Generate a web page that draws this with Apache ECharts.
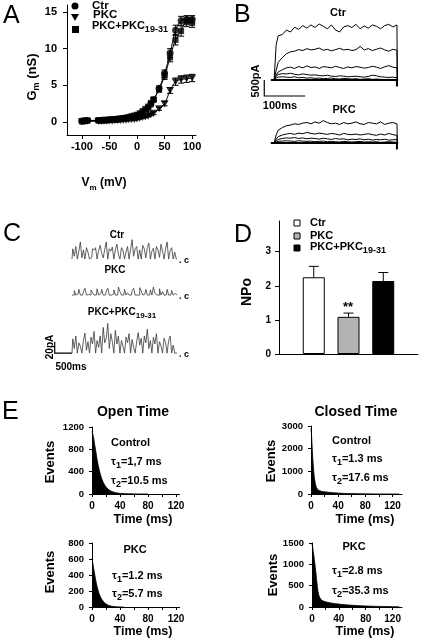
<!DOCTYPE html>
<html><head><meta charset="utf-8">
<script src="https://cdn.jsdelivr.net/npm/echarts@6/dist/echarts.min.js"></script>
<style>html,body{margin:0;padding:0;background:#fff}#c{width:421px;height:643px}</style>
</head><body><div id="c"></div>
<script>
const FONT = "'Liberation Sans', Arial, sans-serif";

// ---------- Panel A: G-V relation ----------
const vA = [-100,-95,-90,-70,-65,-60,-55,-50,-45,-40,-35,-30,-25,-20,-15,-10,-5,0,5,10,15,20,25,30,40,50,60,70,80,90,100];
const ctrA = [0.1,0.15,0.2,0.2,0.2,0.25,0.25,0.3,0.3,0.35,0.35,0.4,0.45,0.5,0.55,0.6,0.7,0.8,1.0,1.2,1.5,1.9,2.4,3.0,4.6,6.6,9.4,12.5,13.8,14.0,14.0];
const pkcA = [0.05,0.1,0.1,0.1,0.1,0.1,0.15,0.15,0.15,0.2,0.2,0.2,0.25,0.25,0.3,0.3,0.35,0.4,0.5,0.6,0.7,0.8,1.0,1.2,1.8,2.5,4.3,5.5,5.8,5.9,6.0];
const pkcpA = [0.1,0.2,0.2,0.25,0.25,0.3,0.3,0.35,0.35,0.4,0.45,0.5,0.55,0.6,0.7,0.8,0.9,1.0,1.2,1.5,1.8,2.1,2.6,3.1,4.4,6.3,8.8,11.2,12.4,13.6,13.5];
const ctrErrA = [0.1,0.1,0.1,0.1,0.1,0.1,0.1,0.1,0.1,0.1,0.1,0.1,0.1,0.1,0.1,0.1,0.1,0.1,0.1,0.1,0.1,0.15,0.2,0.25,0.3,0.5,0.6,0.7,0.6,0.5,0.5];
const pkcErrA = [0.1,0.1,0.1,0.1,0.1,0.1,0.1,0.1,0.1,0.1,0.1,0.1,0.1,0.1,0.1,0.1,0.1,0.1,0.1,0.1,0.1,0.1,0.15,0.2,0.2,0.3,0.4,0.5,0.5,0.5,0.5];
const pkcpErrA = [0.1,0.1,0.1,0.1,0.1,0.1,0.1,0.1,0.1,0.1,0.1,0.1,0.1,0.1,0.1,0.1,0.1,0.1,0.1,0.1,0.1,0.15,0.2,0.25,0.3,0.5,0.6,0.7,0.7,0.6,0.6];
const tickA_x = [-100,-50,0,50,100];
const tickA_y = [0,5,10,15];

// ---------- Panel B: whole-cell current traces (ms, pA) ----------
const tB = [0,5,10,20,30,40,50,60,70,80,90,100,110,120,130,140,150,160,170,180,190,200,210,220,230,240,250,260,270,280,290,300,301];
const ctrB1 = [0,1100,1380,1420,1560,1500,1650,1580,1700,1620,1720,1640,1750,1680,1600,1720,1560,1500,1660,1700,1640,1740,1600,1690,1620,1720,1680,1600,1700,1740,1660,1720,0];
const ctrB2 = [0,300,550,700,820,880,900,950,920,980,940,960,1000,930,960,910,950,990,940,960,920,950,1050,940,980,920,960,1000,940,900,960,930,0];
const ctrB3 = [0,150,250,320,380,400,360,420,380,440,390,410,360,420,400,380,430,390,360,410,380,420,400,370,390,430,400,360,410,450,400,380,0];
const ctrB4 = [0,120,170,200,190,210,180,160,190,170,150,160,140,130,150,120,110,130,120,100,110,120,100,90,110,150,130,100,90,80,90,70,0];
const ctrB5 = [0,60,90,100,90,80,100,70,80,60,70,50,60,40,50,60,40,30,50,40,30,40,20,30,40,20,30,20,10,20,10,20,0];
const pkcB1 = [0,250,400,480,540,560,600,580,620,640,600,660,620,700,640,600,620,580,640,600,620,660,600,580,640,620,600,660,580,620,640,600,0];
const pkcB2 = [0,120,200,250,280,300,270,310,290,330,300,280,310,290,270,300,280,250,300,270,260,280,250,270,290,260,240,280,250,300,260,240,0];
const pkcB3 = [0,60,110,140,160,150,170,140,160,130,150,140,120,150,130,110,140,120,130,100,120,110,130,100,120,90,110,100,120,90,100,110,0];
const pkcB4 = [0,30,50,60,70,60,50,70,60,50,60,40,50,60,40,50,40,30,50,40,30,40,50,30,40,30,40,20,30,40,30,20,0];
const baseBT = [-8,300,300,300,303];
const baseBI = [0,0,-200,0,0];
const scaleBT = [-24,-24,76];
const scaleBI = [0,-500,-500];

// ---------- Panel C: single-channel traces (pA) ----------
const stepC = 44; // ms per sample
const ctrC = [0,18,5,22,0,14,30,2,16,0, 20,12,0,3,18,16,20,0,15,24, 10,2,17,30,0,18,14,21,0,16, 26,8,0,20,15,0,12,22,0,17, 34,5,18,22,0,16,0,24,18,2, 20,28,0,14,19,0,22,16,3,26, 14,0,18,30,0,15,20,0,12,0];
const pkcC = [0,0,8,0,2,10,0,0,6,12, 0,1,0,9,4,0,0,11,0,3, 10,0,0,7,12,0,0,2,9,0, 0,14,6,0,0,10,0,4,0,0, 8,12,0,0,0,13,7,0,2,10, 0,0,9,0,14,3,0,0,11,0, 6,0,0,10,0,0,8,0,3,0];
const pkcpC = [0,25,8,30,0,18,12,0,22,35, 5,20,0,28,16,38,0,22,10,30, 0,45,18,26,52,8,34,20,0,40, 16,30,0,22,12,0,28,18,34,0, 24,10,0,20,36,14,26,0,30,18, 42,8,22,0,28,16,34,0,20,12, 0,26,18,0,22,30,0,14,0,0];
const scaleCT = [-500,-500,0];
const scaleCI = [20,0,0];

// ---------- Panel D: NPo ----------
const npoNames = ['Ctr','PKC','PKC+PKC19-31'];
const npoVals = [2.25,1.09,2.14];
const npoErr = [0.32,0.11,0.25];
const npoColors = ['#ffffff','#b3b3b3','#000000'];
const tickD_y = [0,1,2,3];

// ---------- Panel E: dwell-time histograms ----------
const openCtrlT = [0,1,2,3,4,5,6,7,8,9,10,11,12,13,14,15,16,17,18,19,20,21,22,23,24,25,26,27,28,29,30,32,34,36,38,40,42,45,48,52,56,60,70,80];
const openCtrlN = [1120,1080,1030,950,870,800,720,640,570,510,450,400,350,310,270,240,210,185,160,140,125,110,98,86,76,68,60,53,47,42,37,30,24,19,15,12,10,8,6,4,3,2,1,0];
const closedCtrlT = [0,1,2,3,4,5,6,7,8,9,10,11,12,13,14,15,16,18,20,22,25,28,31,35,40,45,50,55,60,70,80,90,100,110,120,130];
const closedCtrlN = [2900,2500,1900,1400,1000,720,520,380,290,230,190,165,150,140,130,122,115,105,96,88,78,68,60,50,40,32,26,21,17,11,7,5,3,2,1,0];
const openPkcT = [0,1,2,3,4,5,6,7,8,9,10,11,12,13,14,15,16,17,18,19,20,22,24,26,28,30,33,36,40,45];
const openPkcN = [610,560,500,450,400,350,305,265,230,200,170,148,128,110,95,82,70,60,52,44,38,28,20,14,10,7,4,2,1,0];
const closedPkcT = [0,1,2,3,4,5,6,7,8,9,10,11,12,13,14,15,16,18,20,22,25,28,31,35,40,45,50,55,60,70,80,90,100,110,120,130];
const closedPkcN = [1480,1400,1300,1170,1050,920,780,620,480,360,290,240,205,180,165,155,145,132,122,114,104,95,87,78,68,60,52,46,40,31,24,18,14,11,8,6];
const tickE_lab = [0,40,80,120];
const tickE_tick = [0,20,40,60,80,100,120];

// ---------- helpers ----------
const zip = (a,b) => a.map((v,i)=>[v,b[i]]);
const zip3 = (a,b,c) => a.map((v,i)=>[v,b[i],c[i]]);
const idxT = (arr, step) => arr.map((_,i)=>i*step);
const BLK = '#000';
const lineSt = {color:BLK, width:1};
const plain = v => String(v);

function visAxis(grid, o) {
  return Object.assign({
    type:'value', gridIndex:grid,
    axisLine:{show:true, onZero:false, lineStyle:lineSt},
    axisTick:{show:true, length:4, lineStyle:lineSt},
    axisLabel:{color:BLK, fontWeight:'bold', fontSize:10, fontFamily:FONT, formatter:plain},
    splitLine:{show:false}
  }, o);
}
function hidAxis(grid, min, max) {
  return {type:'value', gridIndex:grid, min:min, max:max, show:false, splitLine:{show:false}};
}
function errRender(cap, both) {
  return function(params, api) {
    const x = api.value(0), y = api.value(1), e = api.value(2);
    const hi = api.coord([x, y + e]);
    const lo = both ? api.coord([x, y - e]) : api.coord([x, y]);
    const ch = [
      {type:'line', shape:{x1:lo[0],y1:lo[1],x2:hi[0],y2:hi[1]}, style:{stroke:BLK,lineWidth:1}},
      {type:'line', shape:{x1:hi[0]-cap,y1:hi[1],x2:hi[0]+cap,y2:hi[1]}, style:{stroke:BLK,lineWidth:1}}
    ];
    if (both) ch.push({type:'line', shape:{x1:lo[0]-cap,y1:lo[1],x2:lo[0]+cap,y2:lo[1]}, style:{stroke:BLK,lineWidth:1}});
    return {type:'group', children:ch};
  };
}
function polyRender(ts, vs, w) {
  return function(params, api) {
    const pts = ts.map((t,i)=>api.coord([t, vs[i]]));
    return {type:'polyline', shape:{points:pts}, style:{stroke:BLK, lineWidth:w, fill:null}};
  };
}
function barSeries(xi, ts, vs, w) {
  return {type:'custom', xAxisIndex:xi, yAxisIndex:xi, data:[[ts[0], vs[0]]], clip:false, silent:true,
    renderItem:polyRender(ts, vs, w), animation:false};
}
function traceLine(xi, t, v, color, w, step) {
  const s = {type:'line', xAxisIndex:xi, yAxisIndex:xi, data:zip(t,v), symbol:'none', silent:true,
    lineStyle:{color:color||BLK, width:w||1}, animation:false};
  if (step) s.step = step;
  return s;
}
function histLine(xi, t, n) {
  return {type:'line', xAxisIndex:xi, yAxisIndex:xi, data:zip(t,n), symbol:'none', silent:true,
    lineStyle:{color:BLK, width:0.8}, areaStyle:{color:BLK, opacity:1}, animation:false};
}
function txt(x, y, text, font, o) {
  o = o || {};
  const st = {text:text, x:0, y:0, fill:BLK, font:font, textAlign:o.align||'center', align:o.align||'center',
    textVerticalAlign:'middle', verticalAlign:'middle'};
  if (o.rich) st.rich = o.rich;
  return {type:'text', x:x, y:y, rotation:o.rot||0, style:st, z:100, silent:true};
}
function richSub(size, subSize) {
  return {
    a:{fontSize:size, fontWeight:'bold', fontFamily:FONT, fill:BLK, color:BLK, lineHeight:size+6, verticalAlign:'middle'},
    s:{fontSize:subSize, fontWeight:'bold', fontFamily:FONT, fill:BLK, color:BLK, lineHeight:size+6, verticalAlign:'bottom'}
  };
}
const B = (s) => 'bold ' + s + 'px ' + FONT;
const LET = 'normal 25px ' + FONT;

const tC = idxT(ctrC, stepC);

const grids = [
  {left:67, top:5, width:129, height:130},
  {left:270, top:20, width:129, height:68},
  {left:270, top:83, width:129, height:68},
  {left:72, top:235.1, width:105, height:27.4},
  {left:72, top:271.1, width:105, height:27.4},
  {left:72, top:320, width:105, height:36.5},
  {left:279, top:221, width:139, height:133},
  {left:92, top:427, width:87.5, height:67},
  {left:311, top:426, width:91, height:68},
  {left:92, top:543, width:87.5, height:64},
  {left:312, top:543, width:90, height:64}
].map(g => Object.assign({outerBoundsMode:'none', containLabel:false}, g));

const eX = (gi, max) => visAxis(gi, {min:0, max:max,
  axisTick:{show:true, length:3, lineStyle:lineSt, customValues:tickE_tick},
  axisLabel:{color:BLK, fontWeight:'bold', fontSize:10, fontFamily:FONT, margin:7, customValues:tickE_lab, formatter:plain}});
const eY = (gi, max, iv) => visAxis(gi, {min:0, max:max, interval:iv,
  axisTick:{show:true, length:3, lineStyle:lineSt},
  axisLabel:{color:BLK, fontWeight:'bold', fontSize:9.5, fontFamily:FONT, margin:8, formatter:plain}});

const xAxes = [
  visAxis(0, {min:-127, max:107,
    axisTick:{show:true, length:4, lineStyle:lineSt, customValues:tickA_x},
    axisLabel:{color:BLK, fontWeight:'bold', fontSize:11, fontFamily:FONT, margin:6, customValues:tickA_x, formatter:plain}}),
  hidAxis(1, -10, 305), hidAxis(2, -10, 305),
  hidAxis(3, 0, 3036), hidAxis(4, 0, 3036), hidAxis(5, 0, 3036),
  visAxis(6, {min:0, max:4, axisTick:{show:false}, axisLabel:{show:false}}),
  eX(7, 125), eX(8, 134), eX(9, 125), eX(10, 134)
];
const yAxes = [
  visAxis(0, {min:-1.77, max:15.95,
    axisTick:{show:true, length:4, lineStyle:lineSt, customValues:tickA_y},
    axisLabel:{color:BLK, fontWeight:'bold', fontSize:11, fontFamily:FONT, margin:10, customValues:tickA_y, formatter:plain}}),
  hidAxis(1, -250, 1875), hidAxis(2, -250, 1875),
  hidAxis(3, -6, 42), hidAxis(4, -6, 42), hidAxis(5, -6, 58),
  visAxis(6, {min:0, max:3.9,
    axisTick:{show:true, length:4, lineStyle:lineSt, customValues:tickD_y},
    axisLabel:{color:BLK, fontWeight:'bold', fontSize:10, fontFamily:FONT, margin:8, customValues:tickD_y, formatter:plain}}),
  eY(7, 1200, 400), eY(8, 3000, 1000), eY(9, 800, 200), eY(10, 1500, 500)
];

const TRI = 'path://M0,0L10,0L5,9Z';
const series = [
  // A: fitted curves
  {type:'line', xAxisIndex:0, yAxisIndex:0, data:zip(vA,ctrA), smooth:0.4, symbol:'none', lineStyle:lineSt, animation:false},
  {type:'line', xAxisIndex:0, yAxisIndex:0, data:zip(vA,pkcA), smooth:0.4, symbol:'none', lineStyle:lineSt, animation:false},
  {type:'line', xAxisIndex:0, yAxisIndex:0, data:zip(vA,pkcpA), smooth:0.4, symbol:'none', lineStyle:lineSt, animation:false},
  // A: error bars
  {type:'custom', xAxisIndex:0, yAxisIndex:0, data:zip3(vA,ctrA,ctrErrA), renderItem:errRender(3,true), encode:{x:0,y:1}, animation:false},
  {type:'custom', xAxisIndex:0, yAxisIndex:0, data:zip3(vA,pkcA,pkcErrA), renderItem:errRender(3,true), encode:{x:0,y:1}, animation:false},
  {type:'custom', xAxisIndex:0, yAxisIndex:0, data:zip3(vA,pkcpA,pkcpErrA), renderItem:errRender(3,true), encode:{x:0,y:1}, animation:false},
  // A: points
  {type:'scatter', xAxisIndex:0, yAxisIndex:0, data:zip(vA,ctrA), symbol:'circle', symbolSize:7, itemStyle:{color:BLK}, animation:false},
  {type:'scatter', xAxisIndex:0, yAxisIndex:0, data:zip(vA,pkcA), symbol:TRI, symbolSize:[8,7], itemStyle:{color:BLK}, animation:false},
  {type:'scatter', xAxisIndex:0, yAxisIndex:0, data:zip(vA,pkcpA), symbol:'rect', symbolSize:6, itemStyle:{color:BLK}, animation:false},
  // B: Ctr traces
  traceLine(1, tB, ctrB1), traceLine(1, tB, ctrB2), traceLine(1, tB, ctrB3), traceLine(1, tB, ctrB4), traceLine(1, tB, ctrB5),
  barSeries(1, baseBT, baseBI, 2), barSeries(1, scaleBT, scaleBI, 1.2),
  // B: PKC traces
  traceLine(2, tB, pkcB1), traceLine(2, tB, pkcB2), traceLine(2, tB, pkcB3), traceLine(2, tB, pkcB4),
  barSeries(2, baseBT, baseBI, 2),
  // C: single-channel traces
  traceLine(3, tC, ctrC, '#3a3a3a', 0.8, 'middle'),
  traceLine(4, tC, pkcC, '#3a3a3a', 0.8, 'middle'),
  traceLine(5, tC, pkcpC, '#3a3a3a', 0.8, 'middle'),
  barSeries(5, scaleCT, scaleCI, 1.2),
  // D: bars
  {type:'bar', xAxisIndex:6, yAxisIndex:6, barWidth:22, animation:false,
    data:npoVals.map((v,i)=>({value:[i+1,v], itemStyle:{color:npoColors[i], borderColor:BLK, borderWidth:1}}))},
  {type:'custom', xAxisIndex:6, yAxisIndex:6, data:npoVals.map((v,i)=>[i+1,v,npoErr[i]]), renderItem:errRender(5,false), encode:{x:0,y:1}, animation:false},
  // E: histograms
  histLine(7, openCtrlT, openCtrlN),
  histLine(8, closedCtrlT, closedCtrlN),
  histLine(9, openPkcT, openPkcN),
  histLine(10, closedPkcT, closedPkcN)
];

const graphics = [
  // panel letters
  txt(3, 16, 'A', LET, {align:'left'}),
  txt(234, 15, 'B', LET, {align:'left'}),
  txt(3, 234, 'C', LET, {align:'left'}),
  txt(234, 235, 'D', LET, {align:'left'}),
  txt(2, 412, 'E', LET, {align:'left'}),
  // A legend
  {type:'circle', shape:{cx:75, cy:6, r:3.5}, style:{fill:BLK}, z:100},
  {type:'polygon', shape:{points:[[71,14],[79,14],[75,21]]}, style:{fill:BLK}, z:100},
  {type:'rect', shape:{x:72, y:26, width:7, height:7}, style:{fill:BLK}, z:100},
  txt(92, 6, 'Ctr', B(11.5), {align:'left'}),
  txt(93, 15, 'PKC', B(11.5), {align:'left'}),
  txt(92, 26, '{a|PKC+PKC}{s|19-31}', B(11), {align:'left', rich:richSub(11,9)}),
  // A axis names
  txt(32, 77, '{a|G}{s|m}{a| (nS)}', B(13), {rot:Math.PI/2, rich:richSub(13,9)}),
  txt(104, 183, '{a|V}{s|m}{a| (mV)}', B(12), {rich:richSub(12,8)}),
  // B labels
  txt(338, 13, 'Ctr', B(11)),
  txt(344, 110, 'PKC', B(11)),
  txt(256, 81, '500pA', B(11), {rot:Math.PI/2}),
  txt(280, 106, '100ms', B(11)),
  // C labels
  txt(117, 235, 'Ctr', B(10)),
  txt(115, 270, 'PKC', B(10)),
  txt(122, 312, '{a|PKC+PKC}{s|19-31}', B(10), {rich:richSub(10,8)}),
  txt(50, 347, '20pA', B(10), {rot:Math.PI/2}),
  txt(71, 367, '500ms', B(10)),
  txt(179, 261, '. c', B(9), {align:'left'}),
  txt(179, 297, '. c', B(9), {align:'left'}),
  txt(179, 355, '. c', B(9), {align:'left'}),
  // D legend and labels
  {type:'rect', shape:{x:294, y:220, width:6, height:6}, style:{fill:npoColors[0], stroke:BLK, lineWidth:1}, z:100},
  {type:'rect', shape:{x:294, y:233, width:6, height:6}, style:{fill:npoColors[1], stroke:BLK, lineWidth:1}, z:100},
  {type:'rect', shape:{x:294, y:245, width:6, height:6}, style:{fill:npoColors[2], stroke:BLK, lineWidth:1}, z:100},
  txt(310, 223, npoNames[0], B(11), {align:'left'}),
  txt(310, 236, npoNames[1], B(11), {align:'left'}),
  txt(310, 247, '{a|PKC+PKC}{s|19-31}', B(11), {align:'left', rich:richSub(11,9)}),
  txt(348, 307, '**', B(13)),
  txt(247, 292, 'NPo', B(14), {rot:Math.PI/2}),
  // E titles / names
  txt(133, 412, 'Open Time', B(14)),
  txt(356, 412, 'Closed Time', B(14)),
  txt(50, 462, 'Events', B(13), {rot:Math.PI/2}),
  txt(271, 461, 'Events', B(13), {rot:Math.PI/2}),
  txt(50, 572, 'Events', B(13), {rot:Math.PI/2}),
  txt(273, 575, 'Events', B(13), {rot:Math.PI/2}),
  txt(143, 520, 'Time (ms)', B(12.5)),
  txt(365, 520, 'Time (ms)', B(12.5)),
  txt(143, 632, 'Time (ms)', B(12.5)),
  txt(365, 632, 'Time (ms)', B(12.5)),
  // E annotations
  txt(111, 443, 'Control', B(11), {align:'left'}),
  txt(111, 462, '{a|τ}{s|1}{a|=1,7 ms}', B(11), {align:'left', rich:richSub(11,9)}),
  txt(111, 481, '{a|τ}{s|2}{a|=10.5 ms}', B(11), {align:'left', rich:richSub(11,9)}),
  txt(332, 441, 'Control', B(11), {align:'left'}),
  txt(332, 459, '{a|τ}{s|1}{a|=1.3 ms}', B(11), {align:'left', rich:richSub(11,9)}),
  txt(332, 478, '{a|τ}{s|2}{a|=17.6 ms}', B(11), {align:'left', rich:richSub(11,9)}),
  txt(135, 550, 'PKC', B(11)),
  txt(112, 576, '{a|τ}{s|1}{a|=1.2 ms}', B(11), {align:'left', rich:richSub(11,9)}),
  txt(112, 594, '{a|τ}{s|2}{a|=5.7 ms}', B(11), {align:'left', rich:richSub(11,9)}),
  txt(354, 547, 'PKC', B(11)),
  txt(332, 571, '{a|τ}{s|1}{a|=2.8 ms}', B(11), {align:'left', rich:richSub(11,9)}),
  txt(332, 591, '{a|τ}{s|2}{a|=35.3 ms}', B(11), {align:'left', rich:richSub(11,9)})
];

const chart = echarts.init(document.getElementById('c'), null, {renderer:'canvas'});
chart.setOption({
  animation:false,
  backgroundColor:'#fff',
  grid:grids,
  xAxis:xAxes,
  yAxis:yAxes,
  series:series,
  graphic:graphics
});
</script>
</body></html>
